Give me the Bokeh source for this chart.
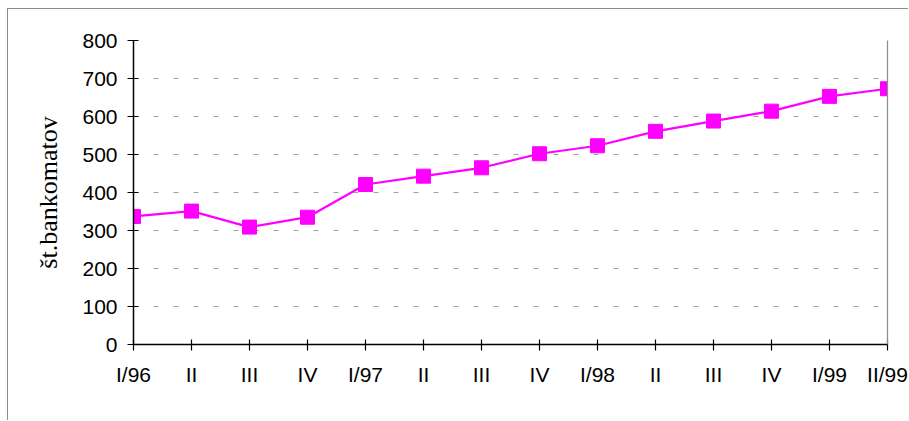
from bokeh.plotting import figure
from bokeh.models import FixedTicker, LinearAxis, Range1d, ColumnDataSource
from bokeh.embed import file_html
from bokeh.resources import INLINE

labels = ["I/96", "II", "III", "IV", "I/97", "II", "III", "IV", "I/98", "II", "III", "IV", "I/99", "II/99"]
values = [337, 351, 309, 335, 421, 443, 465, 502, 523, 561, 588, 614, 653, 673]
y_ticks = [0, 100, 200, 300, 400, 500, 600, 700, 800]

xs = list(range(len(labels)))
src = ColumnDataSource(dict(x=xs, y=values))

p = figure(width=901, height=412, output_backend="svg", toolbar_location=None,
           x_range=Range1d(0, len(labels) - 1), y_range=Range1d(0, 800),
           min_border_left=125, min_border_top=31, min_border_right=22, min_border_bottom=77)
p.styles = {"border-top": "1px solid #8c8c8c", "border-left": "1px solid #8c8c8c",
            "margin-left": "7px", "margin-top": "8px"}
p.outline_line_color = None
p.background_fill_color = "white"
p.border_fill_color = "white"

p.line("x", "y", source=src, line_color="#FF00FF", line_width=2.2)
p.scatter("x", "y", source=src, marker="square", size=14, fill_color="#FF00FF", line_color="#FF00FF")

# axes
p.xaxis.ticker = FixedTicker(ticks=xs)
p.xaxis.major_label_overrides = {i: l for i, l in enumerate(labels)}
p.yaxis.ticker = FixedTicker(ticks=y_ticks)
for ax in (p.xaxis[0], p.yaxis[0]):
    ax.axis_line_color = "black"
    ax.axis_line_width = 1.5
    ax.major_tick_line_color = "black"
    ax.major_tick_line_width = 1.2
    ax.major_tick_out = 6
    ax.major_tick_in = 5
    ax.minor_tick_line_color = None
    ax.major_label_text_font = "Liberation Sans"
    ax.major_label_text_font_size = "21px"
    ax.major_label_text_color = "black"
p.xaxis.major_label_standoff = 12
p.yaxis.major_label_standoff = 10
p.yaxis.axis_label = "št.bankomatov"
p.yaxis.axis_label_text_font = "Liberation Serif"
p.yaxis.axis_label_text_font_size = "26px"
p.yaxis.axis_label_text_font_style = "normal"
p.yaxis.axis_label_text_color = "black"
p.yaxis.axis_label_standoff = 16

# right border of the plot area
r = LinearAxis(ticker=FixedTicker(ticks=[]), axis_line_color="#8c8c8c", axis_line_width=1.2,
               major_tick_line_color=None, minor_tick_line_color=None,
               major_label_text_font_size="0px")
p.add_layout(r, "right")

p.xgrid.grid_line_color = None
p.ygrid.grid_line_color = "#a0a0a0"
p.ygrid.grid_line_width = 1.2
p.ygrid.grid_line_dash = "5 15"
p.ygrid.ticker = FixedTicker(ticks=y_ticks)

open("out.html", "w").write(file_html(p, INLINE))
